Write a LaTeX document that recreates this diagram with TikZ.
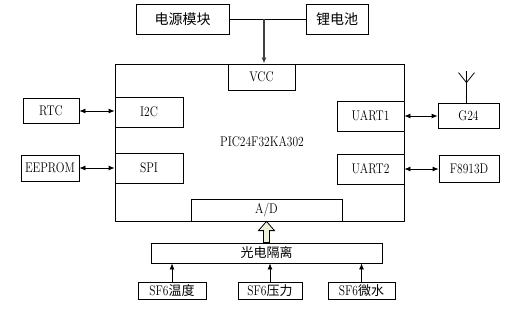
\documentclass[tikz,border=0pt]{standalone}
\usepackage{fontspec}
\setmainfont{Latin Modern Roman}[FakeStretch=0.82]
\newfontfamily\cjk{Noto Sans CJK SC}
\usetikzlibrary{arrows.meta,calc}
\definecolor{hollow}{HTML}{EEF0DA}
\begin{document}
\begin{tikzpicture}[x=1pt,y=-1pt,
  box/.style={draw, line width=0.8pt, inner sep=0pt, anchor=center, font=\fontsize{14}{16}\selectfont},
  cbox/.style={box, font=\fontsize{14}{16}\selectfont},
  link/.style={line width=0.8pt},
  dbl/.style={link, {Latex[length=6pt,width=5pt]}-{Latex[length=6pt,width=5pt]}},
  up/.style={link, -{Latex[length=6pt,width=5pt]}}]
\useasboundingbox (0,0) rectangle (506,308);
% main controller
\node[box, minimum width=289, minimum height=157] (main) at (259.5,142.5) {};
\node[font=\fontsize{14}{16}\selectfont, inner sep=0pt] (mcu) at (262,142) {PIC24F32KA302};
% power
\node[box, font=\cjk\fontsize{14}{16}\selectfont, minimum width=93, minimum height=30] (pwr) at (182.5,19) {电源模块};
\node[box, font=\cjk\fontsize{14}{16}\selectfont, minimum width=62, minimum height=30] (bat) at (337,19) {锂电池};
\node[box, minimum width=67, minimum height=26] (vcc) at (261.5,77) {VCC};
\coordinate (j) at (264,19);
\draw[link] (pwr.east) -- (bat.west);
\draw[up, line width=1.2pt, draw=black!75] (j) -- (j |- vcc.north);
% left interfaces
\node[box, minimum width=68, minimum height=30] (i2c) at (149,112) {I2C};
\node[box, minimum width=68, minimum height=30] (spi) at (149,168) {SPI};
\node[box, minimum width=56, minimum height=25] (rtc) at (51,111) {RTC};
\node[box, minimum width=58, minimum height=26] (eep) at (50,168) {EEPROM};
\draw[dbl] (rtc.east) -- (rtc.east -| i2c.west);
\draw[dbl] (eep.east) -- (eep.east -| spi.west);
% right interfaces
\node[box, minimum width=67, minimum height=30] (u1) at (370.5,116) {UART1};
\node[box, minimum width=67, minimum height=30] (u2) at (370.5,169) {UART2};
\node[box, minimum width=61, minimum height=25] (g24) at (468.5,115.5) {G24};
\node[box, minimum width=60, minimum height=27] (f89) at (469,168.5) {F8913D};
\draw[dbl] (u1.east) -- (u1.east -| g24.west);
\draw[dbl] (u2.east) -- (u2.east -| f89.west);
% antenna
\coordinate (ant) at ($(g24.north)+(-2,-32)$);
\draw[link] ($(g24.north)+(-2,0)$) -- (ant);
\draw[link] ($(ant)+(-8,2)$) -- ($(ant)+(0,12)$) -- ($(ant)+(8,2)$);
% A/D and isolation
\node[box, minimum width=151, minimum height=22] (ad) at (266.5,210) {A/D};
\node[box, font=\cjk\fontsize{13}{15}\selectfont, minimum width=231, minimum height=20] (gd) at (266.5,253) {光电隔离};
\draw[line width=0.8pt, fill=hollow]
  ($(gd.north)+(-3,0)$) -- ($(gd.north)+(-3,-12)$) -- ($(gd.north)+(-8,-12)$)
  -- (ad.south) -- ($(gd.north)+(8,-12)$) -- ($(gd.north)+(3,-12)$) -- ($(gd.north)+(3,0)$) -- cycle;
% sensors
\node[box, minimum width=68, minimum height=17] (s1) at (172,291) {SF6{\cjk\fontsize{13}{15}\selectfont 温度}};
\node[box, minimum width=64, minimum height=17] (s2) at (270,291) {SF6{\cjk\fontsize{13}{15}\selectfont 压力}};
\node[box, minimum width=67, minimum height=17] (s3) at (361.5,291) {SF6{\cjk\fontsize{13}{15}\selectfont 微水}};
\draw[up] (s1.north) -- (s1.north |- gd.south);
\draw[up] (s2.north) -- (s2.north |- gd.south);
\draw[up] (s3.north) -- (s3.north |- gd.south);
\end{tikzpicture}
\end{document}
